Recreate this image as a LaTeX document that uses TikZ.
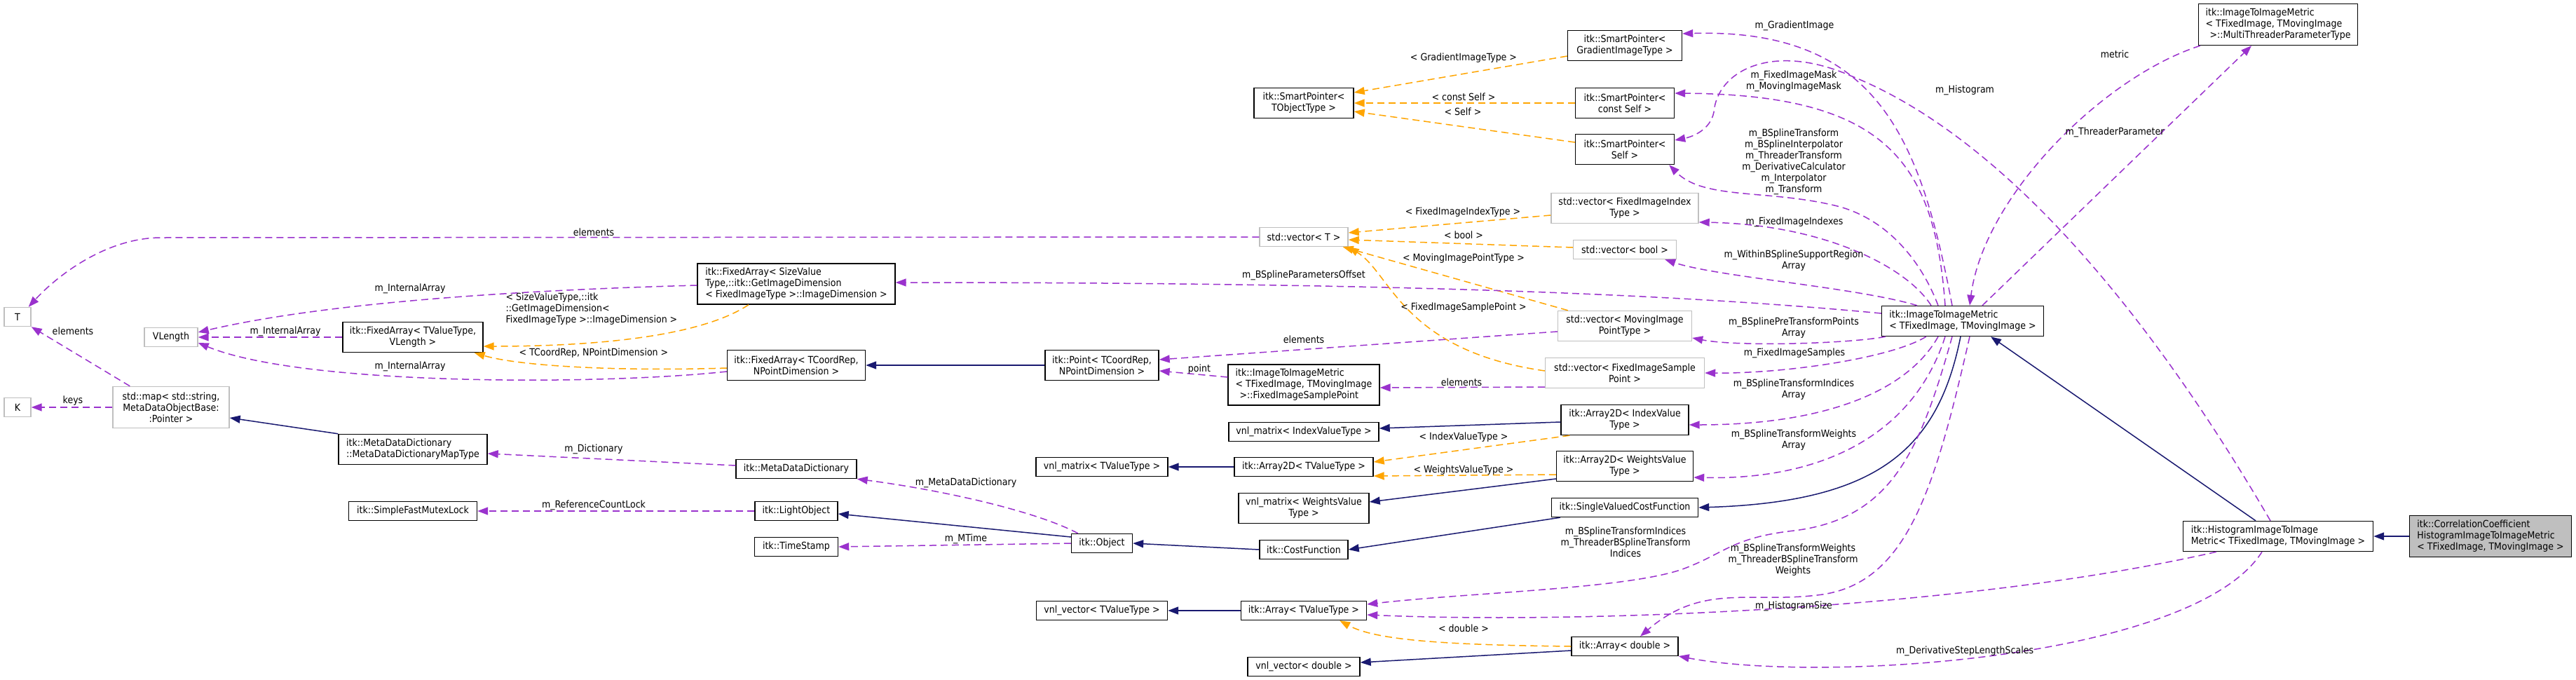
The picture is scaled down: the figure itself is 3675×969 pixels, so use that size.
\documentclass[tikz,border=0pt]{standalone}
\usepackage{fontspec}
\setmainfont{DejaVu Sans Condensed}
\usetikzlibrary{arrows.meta,calc}
\definecolor{inhcol}{HTML}{191970}
\definecolor{usecol}{HTML}{9A32CD}
\definecolor{tplcol}{HTML}{FFA500}
\definecolor{extcol}{HTML}{BFBFBF}
\newcommand{\dxfont}{\fontsize{14pt}{16pt}\selectfont}

\begin{document}
\begin{tikzpicture}[
  x=1pt, y=-1pt,
  cls/.style={draw=black, fill=white, line width=1.4pt, inner xsep=4pt, inner ysep=2pt,
              align=center, font=\dxfont},
  ext/.style={cls, draw=extcol},
  cur/.style={cls, fill=extcol},
  wh/.style 2 args={minimum width=#1pt, minimum height=#2pt},
  lbl/.style={font=\dxfont, align=center, inner sep=0pt},
  arrtip/.style={-{Triangle[length=15pt, width=11pt]}},
  inh/.style={arrtip, draw=inhcol, line width=1.5pt},
  use/.style={arrtip, draw=usecol, line width=1.5pt, dash pattern=on 10pt off 6pt},
  tpl/.style={arrtip, draw=tplcol, line width=1.5pt, dash pattern=on 10pt off 6pt}
]
\path[use as bounding box, fill=white] (0,0) rectangle (3675,969);

% classes, left to right
\node[ext, wh={38}{27}] (T) at (25,452) {T};
\node[ext, wh={38}{27}] (K) at (25,581) {K};
\node[ext, wh={76}{27}] (vlen) at (244,481) {VLength};
\node[ext, wh={166}{59}] (stdmap) at (244,581) {std::map< std::string,\\MetaDataObjectBase:\\:Pointer >};
\node[cls, wh={200}{43}] (faTV) at (589,481) {itk::FixedArray< TValueType,\\VLength >};
\node[cls, wh={212}{43}, align=left] (mapType) at (589,641) {itk::MetaDataDictionary\\::MetaDataDictionaryMapType};
\node[cls, wh={183}{27}] (mutex) at (589,729) {itk::SimpleFastMutexLock};
\node[cls, wh={282}{58}, align=left] (faSize) at (1136,405) {itk::FixedArray< SizeValue\\Type,::itk::GetImageDimension\\< FixedImageType >::ImageDimension >};
\node[cls, wh={197}{43}] (faCoord) at (1136,521) {itk::FixedArray< TCoordRep,\\NPointDimension >};
\node[cls, wh={172}{27}] (mdd) at (1136,669) {itk::MetaDataDictionary};
\node[cls, wh={118}{27}] (light) at (1136,729) {itk::LightObject};
\node[cls, wh={119}{27}] (tstamp) at (1136,780) {itk::TimeStamp};
\node[cls, wh={162}{43}] (point) at (1572,521) {itk::Point< TCoordRep,\\NPointDimension >};
\node[cls, wh={188}{27}] (vmTV) at (1572,666) {vnl\_matrix< TValueType >};
\node[cls, wh={87}{27}] (object) at (1572,775) {itk::Object};
\node[cls, wh={187}{27}] (vvTV) at (1572,871) {vnl\_vector< TValueType >};
\node[cls, wh={142}{43}] (spTObj) at (1860,147) {itk::SmartPointer<\\TObjectType >};
\node[ext, wh={126}{27}] (vecT) at (1860,338) {std::vector< T >};
\node[cls, wh={216}{58}, align=left] (smpPt) at (1860,549) {itk::ImageToImageMetric\\< TFixedImage, TMovingImage\\\hspace*{6pt}>::FixedImageSamplePoint};
\node[cls, wh={214}{27}] (vmIdx) at (1860,616) {vnl\_matrix< IndexValueType >};
\node[cls, wh={198}{27}] (a2TV) at (1860,666) {itk::Array2D< TValueType >};
\node[cls, wh={186}{43}] (vmW) at (1860,725) {vnl\_matrix< WeightsValue\\Type >};
\node[cls, wh={126}{27}] (costfn) at (1860,784) {itk::CostFunction};
\node[cls, wh={179}{27}] (arTV) at (1860,871) {itk::Array< TValueType >};
\node[cls, wh={160}{27}] (vvD) at (1860,951) {vnl\_vector< double >};
\node[cls, wh={163}{43}] (spGrad) at (2318,65) {itk::SmartPointer<\\GradientImageType >};
\node[cls, wh={141}{43}] (spConst) at (2318,147) {itk::SmartPointer<\\const Self >};
\node[cls, wh={141}{43}] (spSelf) at (2318,213) {itk::SmartPointer<\\Self >};
\node[ext, wh={210}{43}] (vecIdx) at (2318,297) {std::vector< FixedImageIndex\\Type >};
\node[ext, wh={147}{27}] (vecBool) at (2318,356) {std::vector< bool >};
\node[ext, wh={191}{43}] (vecMov) at (2318,465) {std::vector< MovingImage\\PointType >};
\node[ext, wh={227}{43}] (vecSmp) at (2318,532) {std::vector< FixedImageSample\\Point >};
\node[cls, wh={182}{43}] (a2Idx) at (2318,599) {itk::Array2D< IndexValue\\Type >};
\node[cls, wh={195}{43}] (a2W) at (2318,665) {itk::Array2D< WeightsValue\\Type >};
\node[cls, wh={209}{27}] (svcf) at (2318,724) {itk::SingleValuedCostFunction};
\node[cls, wh={152}{27}] (arD) at (2318,922) {itk::Array< double >};
\node[cls, wh={231}{43}, align=left] (metric) at (2800,458) {itk::ImageToImageMetric\\< TFixedImage, TMovingImage >};
\node[cls, wh={227}{59}, align=left] (mtp) at (3250,35) {itk::ImageToImageMetric\\< TFixedImage, TMovingImage\\\hspace*{6pt}>::MultiThreaderParameterType};
\node[cls, wh={271}{43}, align=left] (hist) at (3250,765) {itk::HistogramImageToImage\\Metric< TFixedImage, TMovingImage >};
\node[cur, wh={231}{59}, align=left] (corr) at (3553,765) {itk::CorrelationCoefficient\\HistogramImageToImageMetric\\< TFixedImage, TMovingImage >};

% inheritance
\draw[inh] (corr.west) -- (hist.east);
\draw[inh] ($(hist.north)+(-32,0)$) -- ($(metric.south)+(40,0)$);
\draw[inh] ($(metric.south)+(-3,0)$) .. controls (2765,640) and (2680,716) .. (svcf.east);
\draw[inh] ($(svcf.south west)+(13,0)$) -- (costfn.east);
\draw[inh] (costfn.west) -- (object.east);
\draw[inh] ($(object.west)+(0,-9)$) -- ($(light.east)+(0,4)$);
\draw[inh] (mapType.north west) -- ($(stdmap.east)+(0,15)$);
\draw[inh] (point.west) -- (faCoord.east);
\draw[inh] ($(a2Idx.west)+(0,3)$) -- ($(vmIdx.east)+(0,-5)$);
\draw[inh] (a2TV.west) -- (vmTV.east);
\draw[inh] ($(a2W.west)+(0,18)$) -- ($(vmW.east)+(0,-9)$);
\draw[inh] (arTV.west) -- (vvTV.east);
\draw[inh] ($(arD.west)+(0,6)$) -- ($(vvD.east)+(0,-6)$);

% template instances
\draw[tpl] ($(spGrad.west)+(0,15)$) -- ($(spTObj.east)+(0,-15)$);
\draw[tpl] (spConst.west) -- (spTObj.east);
\draw[tpl] ($(spSelf.west)+(0,-10)$) -- ($(spTObj.east)+(0,12)$);
\draw[tpl] ($(vecIdx.west)+(0,10)$) -- ($(vecT.east)+(0,-6)$);
\draw[tpl] ($(vecBool.west)+(0,-3)$) -- ($(vecT.east)+(0,4)$);
\draw[tpl] ($(vecMov.north west)+(15,0)$) -- ($(vecT.south east)+(-8,0)$);
\draw[tpl] ($(vecSmp.west)+(0,-3)$) .. controls (2000,500) and (1985,390) .. (vecT.south east);
\draw[tpl] ($(faSize.south)+(-68,0)$) .. controls (1000,480) and (850,494) .. ($(faTV.east)+(0,13)$);
\draw[tpl] ($(faCoord.west)+(0,4)$) .. controls (880,530) and (740,522) .. ($(faTV.south east)+(-13,0)$);
\draw[tpl] ($(a2Idx.south west)+(13,0)$) -- ($(a2TV.east)+(0,-7)$);
\draw[tpl] ($(a2W.west)+(0,12)$) -- ($(a2TV.east)+(0,13)$);
\draw[tpl] (arD.west) .. controls (2050,920) and (1960,912) .. ($(arTV.south east)+(-39,0)$);

% members
\draw[use] (vecT.west) -- (230,339) .. controls (150,339) and (80,395) .. ($(T.north east)+(-4,0)$);
\draw[use] ($(stdmap.north west)+(25,0)$) -- (T.south east);
\draw[use] (stdmap.west) -- (K.east);
\draw[use] (faTV.west) -- (vlen.east);
\draw[use] ($(faSize.west)+(0,2)$) .. controls (700,415) and (450,435) .. ($(vlen.east)+(0,-7)$);
\draw[use] ($(faCoord.west)+(0,9)$) .. controls (850,550) and (430,550) .. ($(vlen.east)+(0,8)$);
\draw[use] ($(mdd.west)+(0,-5)$) -- ($(mapType.east)+(0,6)$);
\draw[use] (light.west) -- (mutex.east);
\draw[use] ($(object.north west)+(10,0)$) .. controls (1480,730) and (1350,700) .. (mdd.south east);
\draw[use] (object.west) -- (tstamp.east);
\draw[use] ($(smpPt.west)+(0,-11)$) -- ($(point.east)+(0,8)$);
\draw[use] ($(vecMov.west)+(0,8)$) -- ($(point.east)+(0,-8)$);
\draw[use] ($(vecSmp.west)+(0,20)$) -- ($(smpPt.east)+(0,4)$);
\draw[use] ($(metric.north)+(-15,0)$) .. controls (2740,200) and (2680,40) .. ($(spGrad.east)+(0,-17)$);
\draw[use] ($(metric.north)+(-25,0)$) .. controls (2760,230) and (2690,135) .. ($(spConst.east)+(0,-14)$);
\draw[use] ($(metric.north)+(-35,0)$) .. controls (2740,370) and (2690,310) .. (2617,293)
  .. controls (2520,270) and (2430,285) .. ($(spSelf.south east)+(-8,0)$);
\draw[use] ($(hist.north)+(-11,0)$) .. controls (3080,470) and (2870,200) .. (2640,108)
  .. controls (2530,60) and (2450,100) .. (2445,160) .. controls (2440,185) and (2415,195) .. ($(spSelf.east)+(0,-13)$);
\draw[use] ($(metric.north)+(-45,0)$) .. controls (2720,380) and (2600,320) .. ($(vecIdx.east)+(0,20)$);
\draw[use] ($(metric.north)+(-65,0)$) .. controls (2650,410) and (2450,395) .. ($(vecBool.south east)+(-17,0)$);
\draw[use] ($(metric.west)+(0,-11)$) .. controls (2400,420) and (2000,403) .. ($(faSize.east)+(0,-2)$);
\draw[use] ($(metric.south west)+(6,0)$) .. controls (2640,490) and (2480,495) .. ($(vecMov.east)+(0,17)$);
\draw[use] ($(metric.south west)+(64,0)$) .. controls (2700,510) and (2550,533) .. (vecSmp.east);
\draw[use] ($(metric.south)+(-35,0)$) .. controls (2720,560) and (2600,606) .. ($(a2Idx.east)+(0,7)$);
\draw[use] ($(metric.south)+(-25,0)$) .. controls (2730,620) and (2600,685) .. ($(a2W.east)+(0,16)$);
\draw[use] ($(metric.south)+(-15,0)$) .. controls (2740,640) and (2700,740) .. (2559,757)
  .. controls (2470,767) and (2460,790) .. (2400,812) .. controls (2320,840) and (2100,845) .. ($(arTV.east)+(0,-9)$);
\draw[use] ($(metric.south)+(10,0)$) .. controls (2760,700) and (2720,830) .. (2600,848)
  .. controls (2500,862) and (2430,830) .. ($(arD.north)+(22,0)$);
\draw[use] ($(hist.south west)+(48,0)$) .. controls (2800,870) and (2250,890) .. ($(arTV.east)+(0,6)$);
\draw[use] ($(hist.south)+(-23,0)$) .. controls (3130,940) and (2600,975) .. ($(arD.east)+(0,14)$);
\draw[use] ($(mtp.south west)+(3,0)$) .. controls (3000,110) and (2830,280) .. ($(metric.north)+(10,0)$);
\draw[use] ($(metric.north)+(28,0)$) -- ($(mtp.south)+(-38,0)$);

% edge labels
\node[lbl] (lElemT) at (847,331) {elements};
\node[lbl] (lElemMap) at (104,472) {elements};
\node[lbl] (lKeys) at (104,572) {keys};
\node[lbl] (lArr1) at (407,473) {m\_InternalArray};
\node[lbl] (lArr2) at (585,412) {m\_InternalArray};
\node[lbl] (lArr3) at (585,523) {m\_InternalArray};
\node[lbl, align=left] (lSize) at (844,441) {< SizeValueType,::itk\\::GetImageDimension<\\FixedImageType >::ImageDimension >};
\node[lbl] (lCoord) at (847,504) {< TCoordRep, NPointDimension >};
\node[lbl] (lDict) at (847,641) {m\_Dictionary};
\node[lbl] (lLock) at (847,721) {m\_ReferenceCountLock};
\node[lbl] (lMDD) at (1378,689) {m\_MetaDataDictionary};
\node[lbl] (lMTime) at (1378,769) {m\_MTime};
\node[lbl] (lPoint) at (1711,527) {point};
\node[lbl] (lElemPt) at (1860,484) {elements};
\node[lbl] (lElemSmp) at (2085,545) {elements};
\node[lbl] (lOffset) at (1860,393) {m\_BSplineParametersOffset};
\node[lbl] (lGradT) at (2088,83) {< GradientImageType >};
\node[lbl] (lConstT) at (2088,138) {< const Self >};
\node[lbl] (lSelfT) at (2087,159) {< Self >};
\node[lbl] (lIdxT) at (2087,303) {< FixedImageIndexType >};
\node[lbl] (lBoolT) at (2088,335) {< bool >};
\node[lbl] (lMovT) at (2088,369) {< MovingImagePointType >};
\node[lbl] (lSmpT) at (2088,439) {< FixedImageSamplePoint >};
\node[lbl] (lIdxVT) at (2088,624) {< IndexValueType >};
\node[lbl] (lWVT) at (2088,671) {< WeightsValueType >};
\node[lbl] (lDblT) at (2088,896) {< double >};
\node[lbl] (lGrad) at (2560,37) {m\_GradientImage};
\node[lbl] (lMask) at (2559,116) {m\_FixedImageMask\\m\_MovingImageMask};
\node[lbl] (lHist) at (2803,129) {m\_Histogram};
\node[lbl] (lXform) at (2559,231) {m\_BSplineTransform\\m\_BSplineInterpolator\\m\_ThreaderTransform\\m\_DerivativeCalculator\\m\_Interpolator\\m\_Transform};
\node[lbl] (lIdxes) at (2560,317) {m\_FixedImageIndexes};
\node[lbl] (lWithin) at (2559,372) {m\_WithinBSplineSupportRegion\\Array};
\node[lbl] (lPre) at (2559,468) {m\_BSplinePreTransformPoints\\Array};
\node[lbl] (lSamples) at (2560,504) {m\_FixedImageSamples};
\node[lbl] (lIndA) at (2559,556) {m\_BSplineTransformIndices\\Array};
\node[lbl] (lWgtA) at (2559,628) {m\_BSplineTransformWeights\\Array};
\node[lbl] (lIndT) at (2319,773) {m\_BSplineTransformIndices\\m\_ThreaderBSplineTransform\\Indices};
\node[lbl] (lWgtT) at (2558,799) {m\_BSplineTransformWeights\\m\_ThreaderBSplineTransform\\Weights};
\node[lbl] (lHSize) at (2559,865) {m\_HistogramSize};
\node[lbl] (lScales) at (2803,929) {m\_DerivativeStepLengthScales};
\node[lbl] (lMetric) at (3017,77) {metric};
\node[lbl] (lThr) at (3017,189) {m\_ThreaderParameter};
\end{tikzpicture}
\end{document}
